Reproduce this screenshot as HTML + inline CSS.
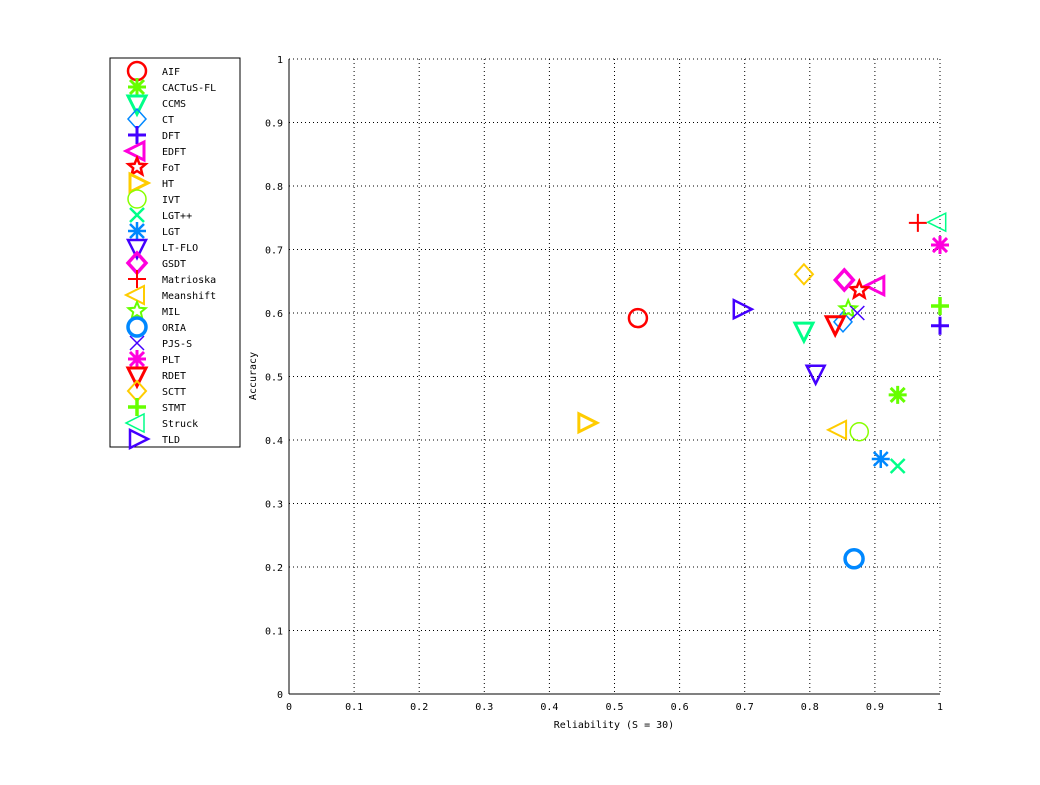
<!DOCTYPE html>
<html><head><meta charset="utf-8"><style>
body{margin:0;background:#fff;}
svg text{font-family:"DejaVu Sans Mono","Liberation Mono",monospace;font-size:10px;fill:#000;}
</style></head><body>
<svg id="c" width="1040" height="780" xmlns="http://www.w3.org/2000/svg">
<rect width="1040" height="780" fill="#fff"/>
<g id="grid"></g>
<line x1="289" y1="59" x2="289" y2="694" stroke="#000"/>
<line x1="289" y1="694" x2="940" y2="694" stroke="#000"/>
<line x1="289" y1="59" x2="940" y2="59" stroke="#000" stroke-dasharray="1,3"/>
<line x1="940" y1="59" x2="940" y2="694" stroke="#000" stroke-dasharray="1,3"/>
<g id="ticks"></g>
<text x="614" y="728" text-anchor="middle">Reliability (S = 30)</text>
<text transform="translate(256,376) rotate(-90)" text-anchor="middle">Accuracy</text>
<g id="marks"></g>
<rect x="110" y="58" width="130" height="389" fill="#fff" stroke="#000"/>
<g id="legend"></g>
</svg>
<script>
const names=["AIF","CACTuS-FL","CCMS","CT","DFT","EDFT","FoT","HT","IVT","LGT++","LGT","LT-FLO","GSDT","Matrioska","Meanshift","MIL","ORIA","PJS-S","PLT","RDET","SCTT","STMT","Struck","TLD"];
const reliability=[0.536,0.935,0.791,0.851,1.0,0.903,0.876,0.456,0.876,0.935,0.909,0.809,0.853,0.966,0.845,0.859,0.868,0.873,1.0,0.839,0.791,1.0,0.998,0.694];
const accuracy=[0.592,0.471,0.573,0.586,0.580,0.643,0.636,0.427,0.413,0.359,0.370,0.506,0.652,0.742,0.416,0.606,0.213,0.600,0.707,0.583,0.661,0.611,0.743,0.606];
const markers=["o","*","v","d","+","<","p",">","o","x","*","v","d","+","<","p","o","x","*","v","d","+","<",">"];
const colors=["#ff0000","#66ff00","#00ff88","#0088ff","#4400ff","#ff00dd","#ff0000","#ffcc00","#88ff00","#00ff88","#0088ff","#4400ff","#ff00dd","#ff0000","#ffcc00","#66ff00","#0088ff","#4400ff","#ff00dd","#ff0000","#ffcc00","#66ff00","#00ff88","#4400ff"];
const widths=[2.5,3,3,1.5,3,3,2.5,3,1.5,2.5,2.5,2.5,3.5,2,2,2,3.5,1.5,3,3,2,3.5,1.5,2.5];
const xTicks=[0,0.1,0.2,0.3,0.4,0.5,0.6,0.7,0.8,0.9,1];
const yTicks=[0,0.1,0.2,0.3,0.4,0.5,0.6,0.7,0.8,0.9,1];
const NS="http://www.w3.org/2000/svg";
const X=v=>289+v*651, Y=v=>694-v*635;
function mk(tag,at,parent){const e=document.createElementNS(NS,tag);for(const k in at)e.setAttribute(k,at[k]);parent.appendChild(e);return e;}
const grid=document.getElementById('grid'),ticks=document.getElementById('ticks');
xTicks.forEach(t=>{
 if(t>0&&t<1){const l=mk('line',{x1:X(t),x2:X(t),y1:59,y2:694,stroke:'#000','stroke-dasharray':'1,3'},grid);
 
 }
 const tk=mk('text',{x:X(t),y:710,'text-anchor':'middle'},ticks);tk.textContent=String(t);
 
 
});
yTicks.forEach(t=>{
 if(t>0&&t<1){const l=mk('line',{x1:289,x2:940,y1:Y(t),y2:Y(t),stroke:'#000','stroke-dasharray':'1,3'},grid);
 
 }
 const tk=mk('text',{x:283,y:Y(t)+4,'text-anchor':'end'},ticks);tk.textContent=String(t);
 
 
});
function marker(g,m,cx,cy,col,w){
 const s=9,a={fill:'none',stroke:col,'stroke-width':w};
 if(m==='o')mk('circle',Object.assign({cx,cy,r:s},a),g);
 else if(m==='+')mk('path',Object.assign({d:`M${cx-s} ${cy}H${cx+s}M${cx} ${cy-s}V${cy+s}`},a),g);
 else if(m==='x')mk('path',Object.assign({d:`M${cx-7} ${cy-7}L${cx+7} ${cy+7}M${cx-7} ${cy+7}L${cx+7} ${cy-7}`},a),g);
 else if(m==='*')mk('path',Object.assign({d:`M${cx-s} ${cy}H${cx+s}M${cx} ${cy-s}V${cy+s}M${cx-7} ${cy-7}L${cx+7} ${cy+7}M${cx-7} ${cy+7}L${cx+7} ${cy-7}`},a),g);
 else if(m==='v')mk('polygon',Object.assign({points:`${cx-s},${cy-7} ${cx+s},${cy-7} ${cx},${cy+s+2}`},a),g);
 else if(m==='<')mk('polygon',Object.assign({points:`${cx+7},${cy-s} ${cx+7},${cy+s} ${cx-s-2},${cy}`},a),g);
 else if(m==='>')mk('polygon',Object.assign({points:`${cx-7},${cy-s} ${cx-7},${cy+s} ${cx+s+2},${cy}`},a),g);
 else if(m==='d')mk('polygon',Object.assign({points:`${cx},${cy-s-1} ${cx+s},${cy} ${cx},${cy+s+1} ${cx-s},${cy}`},a),g);
 else if(m==='p'){let pts=[];for(let i=0;i<10;i++){const r=i%2?4:9,an=-Math.PI/2+i*Math.PI/5;pts.push((cx+r*Math.cos(an)).toFixed(1)+','+(cy+r*Math.sin(an)).toFixed(1));}
  mk('polygon',Object.assign({points:pts.join(' ')},a),g);}
}
const marks=document.getElementById('marks'),leg=document.getElementById('legend');
names.forEach((n,i)=>{
 const g=mk('g',{},marks);
 
 
 marker(g,markers[i],X(reliability[i]),Y(accuracy[i]),colors[i],widths[i]);
 const lg=mk('g',{},leg);
 
 
 const ly=71+i*16;
 marker(lg,markers[i],137,ly,colors[i],widths[i]);
 const t=mk('text',{x:162,y:ly+4},lg);t.textContent=n;
});
</script>
</body></html>
